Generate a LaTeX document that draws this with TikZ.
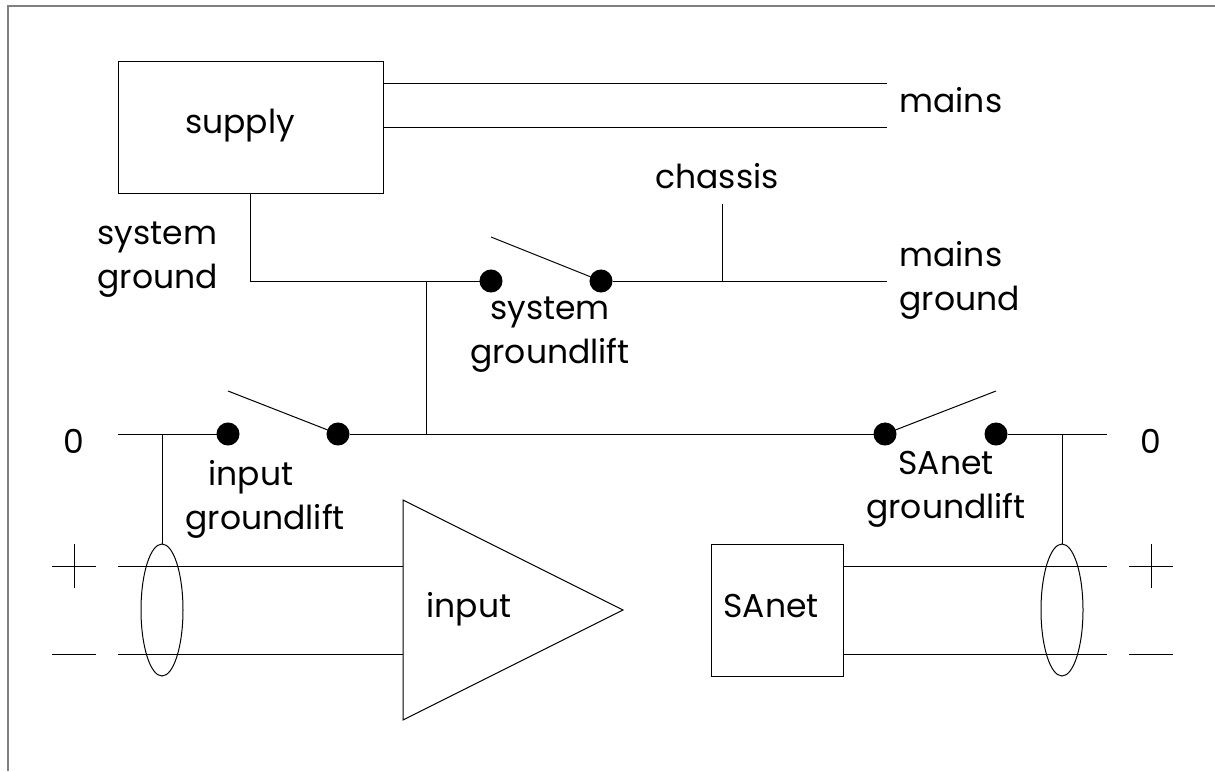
\documentclass[tikz,border=0pt]{standalone}
\usepackage{fontspec}
\setmainfont{Poppins}
\usetikzlibrary{shapes.geometric}

\begin{document}
\begin{tikzpicture}[x=1pt,y=-1pt,line width=1pt]
        \tikzstyle{contact}=[circle,fill=black,draw=black,minimum size=22pt,inner sep=0pt]
        \tikzstyle{box}=[rectangle,draw=black,inner sep=0pt]
        \tikzstyle{shield}=[ellipse,draw=black,minimum width=42pt,minimum height=132pt,inner sep=0pt]
        \tikzstyle{txt}=[font=\fontsize{33}{44}\selectfont,inner sep=0pt,anchor=base]

            \useasboundingbox (0,0) rectangle (1215,771);
            \draw[gray,line width=1.6pt] (8,771) -- (8,6) -- (1215,6);

            % supply and mains
            \node[box,minimum width=265pt,minimum height=132pt] (supply) at (250.5,127) {};
            \node[txt] (supplytxt) at (240,133) {supply};
            \coordinate (m1) at (887,83);
            \coordinate (m2) at (887,127);
            \draw (supply.east |- m1) -- (m1);
            \draw (supply.east |- m2) -- (m2);
            \node[txt,anchor=base west] (mains) at (899,112) {mains};

            \node[txt,align=left,anchor=base west] (sysgnd) at (97,288) {system\\ground};

            % system groundlift
            \node[contact] (s1) at (491,281) {};
            \node[contact] (s2) at (601,281) {};
            \coordinate (bend) at (250,281);
            \coordinate (mg) at (887,281);
            \coordinate (t1) at (491,237);
            \draw (supply.south -| bend) -- (bend) -- (s1);
            \draw (t1) -- (s2);
            \draw (s2) -- (mg);
            \coordinate (c0) at (722,281);
            \coordinate (c1) at (722,204);
            \draw (c0) -- (c1);
            \node[txt] (chassis) at (717,188) {chassis};
            \node[txt,align=left,anchor=base west] (mainsgnd) at (899,310) {mains\\ground};
            \node[txt,align=center] (sysglift) at (550,363) {system\\groundlift};

            % zero line
            \node[contact] (i1) at (228,434) {};
            \node[contact] (i2) at (338,434) {};
            \node[contact] (a1) at (885,434) {};
            \node[contact] (a2) at (996,434) {};
            \coordinate (z1) at (118,434);
            \coordinate (z2) at (1107,434);
            \coordinate (t2) at (228,391);
            \coordinate (t3) at (996,391);
            \draw (z1) -- (i1);
            \draw (t2) -- (i2);
            \draw (i2) -- (a1);
            \draw (a1) -- (t3);
            \draw (a2) -- (z2);
            \coordinate (j0) at (426,281);
            \coordinate (j1) at (426,434);
            \draw (j0) -- (j1);
            \node[txt] (zl) at (74,453) {0};
            \node[txt] (zr) at (1151,453) {0};
            \node[txt,align=left,anchor=base west] (inglift) at (185,529) {\hspace*{23pt}input\\groundlift};
            \node[txt,align=center] (saglift) at (946,518) {SAnet\\groundlift};

            % shields
            \node[shield] (e1) at (162,610) {};
            \node[shield] (e2) at (1062,610) {};
            \draw (162,434) -- (e1.north);
            \draw (1062,434) -- (e2.north);

            % input amplifier
            \coordinate (a) at (403,500);
            \coordinate (b) at (403,720);
            \coordinate (c) at (623,610);
            \draw (a) -- (c) -- (b) -- cycle;
            \node[txt] (inputtxt) at (469,617) {input};

            % SAnet
            \node[box,minimum width=132pt,minimum height=132pt] (sanet) at (777,610) {};
            \node[txt] (sanettxt) at (771,617) {SAnet};

            % signal lines
            \foreach \y/\n in {566/p, 654/q}
            {
                \coordinate (l\n) at (118,\y);
                \coordinate (r\n) at (1107,\y);
                \draw (l\n) -- (403,\y);
                \draw (sanet.east |- r\n) -- (r\n);
                \draw (52,\y) -- (96,\y);
                \draw (1129,\y) -- (1173,\y);
            }
            \draw (74,544) -- (74,588);
            \draw (1151,544) -- (1151,588);
    \end{tikzpicture}
\end{document}
